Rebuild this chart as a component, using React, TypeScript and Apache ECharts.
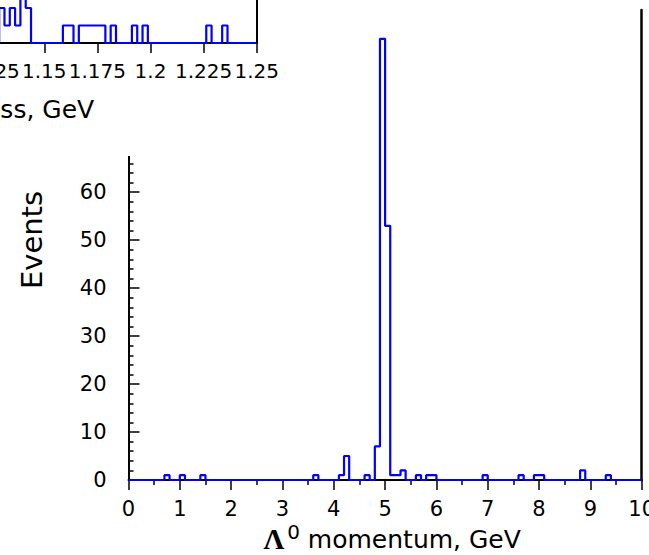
import React, { useEffect, useRef } from "react";
import * as echarts from "echarts";

// ---- main histogram: Λ0 momentum, 0.1 GeV bins (non-empty bins only) ----
const mainBinWidth = 0.1;
const mainRange = [0, 10];
const mainBinStarts = [0.7, 1.0, 1.4, 3.6, 4.1, 4.2, 4.6, 4.8, 4.9, 5.0, 5.1, 5.2, 5.3, 5.6, 5.8, 5.9, 6.9, 7.6, 7.9, 8.0, 8.8, 9.3];
const mainCounts = [1, 1, 1, 1, 1, 5, 1, 7, 92, 53, 1, 1, 2, 1, 1, 1, 1, 1, 1, 1, 2, 1];

// ---- inset histogram: Λ0 mass, 0.0025 GeV bins (non-empty bins only) ----
const insetBinWidth = 0.0025;
const insetRange = [1.0, 1.25];
const insetFirstEdge = 1.00125;
const insetBinStarts = [1.12875, 1.13125, 1.13375, 1.13625, 1.13875, 1.14125, 1.15875, 1.16125, 1.16625, 1.16875, 1.17125, 1.17375, 1.17625, 1.18125, 1.19125, 1.19625, 1.22625, 1.23375];
const insetCounts = [2, 1, 2, 1, 4, 2, 1, 1, 1, 1, 1, 1, 1, 1, 1, 1, 1, 1];

const FONT = "DejaVu Sans";

function buildSteps(firstEdge: number, width: number, end: number, starts: number[], counts: number[]) {
  const map = new Map<number, number>();
  starts.forEach((s, i) => map.set(Math.round((s - firstEdge) / width), counts[i]));
  const pts: [number, number][] = [];
  const n = Math.round((end - firstEdge) / width);
  let last = 0;
  for (let k = 0; k < n; k++) {
    const x = firstEdge + k * width;
    last = map.get(k) ?? 0;
    pts.push([+x.toFixed(6), last]);
  }
  pts.push([end, last]);
  return pts;
}

export default function App() {
  const ref = useRef<HTMLDivElement>(null);
  useEffect(() => {
    if (!ref.current) return;
    const chart = echarts.init(ref.current, null, { renderer: "svg" });
    const mainData = buildSteps(mainRange[0], mainBinWidth, mainRange[1], mainBinStarts, mainCounts);
    const insetData = buildSteps(insetFirstEdge, insetBinWidth, insetRange[1], insetBinStarts, insetCounts);
    const black = "#000";
    const blue = "#0000ff";
    const label = { color: black, fontFamily: FONT, fontSize: 21 };
    const rich = {
      L: { fontFamily: "Liberation Serif", fontSize: 29, fontWeight: "bold", color: black },
      s: { fontFamily: FONT, fontSize: 20, color: black, padding: [0, 0, 14, 3] },
      t: { fontFamily: FONT, fontSize: 25, color: black },
    };
    chart.setOption({
      animation: false,
      backgroundColor: "#fff",
      grid: [
        { left: 128.5, right: 7.3, top: 10, bottom: 75, outerBoundsMode: "none", containLabel: false },
        { left: -274.3, right: 392.3, top: -132, bottom: 512, outerBoundsMode: "none", containLabel: false },
      ],
      xAxis: [
        {
          gridIndex: 0, type: "value", min: mainRange[0], max: mainRange[1], interval: 1,
          axisLine: { show: true, lineStyle: { color: black, width: 2 } },
          axisTick: { show: true, length: 10, lineStyle: { color: black, width: 1.5 } },
          minorTick: { show: true, splitNumber: 2, length: 5, lineStyle: { color: black, width: 1.5 } },
          splitLine: { show: false },
          axisLabel: { ...label, margin: 18, showMaxLabel: true, hideOverlap: false },
          name: "{L|Λ}{s|0} {t|momentum, GeV}",
          nameLocation: "middle", nameGap: 42, nameMoveOverlap: false,
          nameTextStyle: { color: black, fontFamily: FONT, fontSize: 25, padding: [0, 0, 0, 14], rich },
        },
        {
          gridIndex: 1, type: "value", min: insetRange[0], max: insetRange[1], interval: 0.025, z: 60,
          axisLine: { show: true, lineStyle: { color: black, width: 2 } },
          axisTick: { show: true, length: 10, lineStyle: { color: black, width: 1.5 } },
          splitLine: { show: false },
          axisLabel: {
            ...label, fontSize: 20, margin: 18, showMaxLabel: true, showMinLabel: true, hideOverlap: false,
            formatter: (v: number) => String(+v.toFixed(4)),
          },
          name: "{L|Λ}{s|0} {t|mass, GeV}",
          nameLocation: "middle", nameGap: 49, nameMoveOverlap: false,
          nameTextStyle: { color: black, fontFamily: FONT, fontSize: 25, padding: [0, 0, 0, 28], rich },
        },
      ],
      yAxis: [
        {
          gridIndex: 0, type: "value", min: 0, max: 98, interval: 10,
          axisLine: { show: true, lineStyle: { color: black, width: 2 } },
          axisTick: { show: true, inside: true, length: 11, lineStyle: { color: black, width: 1.5 } },
          minorTick: { show: true, splitNumber: 5, length: 5, lineStyle: { color: black, width: 1.5 } },
          splitLine: { show: false },
          axisLabel: { ...label, margin: 22, showMaxLabel: false },
          name: "Events", nameLocation: "middle", nameRotate: 90, nameGap: 82, nameMoveOverlap: false,
          nameTextStyle: { color: black, fontFamily: FONT, fontSize: 29, padding: [0, 0, 0, 10] },
        },
        {
          gridIndex: 0, type: "value", min: 0, max: 98, position: "right",
          axisLine: { show: true, onZero: false, lineStyle: { color: black, width: 2.5 } },
          axisTick: { show: false }, axisLabel: { show: false }, splitLine: { show: false },
        },
        {
          gridIndex: 1, type: "value", min: 0, max: 10, z: 60,
          axisLine: { show: true, lineStyle: { color: black, width: 2 } },
          axisTick: { show: false }, axisLabel: { show: false }, splitLine: { show: false },
        },
        {
          gridIndex: 1, type: "value", min: 0, max: 10, position: "right", z: 60,
          axisLine: { show: true, onZero: false, lineStyle: { color: black, width: 2 } },
          axisTick: { show: false }, axisLabel: { show: false }, splitLine: { show: false },
        },
      ],
      graphic: [
        { type: "rect", z: 50, shape: { x: -10, y: -10, width: 320, height: 166 }, style: { fill: "#fff" } },
      ],
      series: [
        {
          type: "line", xAxisIndex: 0, yAxisIndex: 0, step: "end", symbol: "none", z: 2,
          lineStyle: { color: blue, width: 2.2 }, data: mainData,
        },
        {
          type: "line", xAxisIndex: 1, yAxisIndex: 2, step: "end", symbol: "none", z: 60,
          lineStyle: { color: blue, width: 2.2 }, data: insetData,
        },
      ],
    });
    return () => chart.dispose();
  }, []);
  return <div ref={ref} style={{ position: "absolute", left: 0, top: 0, width: 649, height: 555 }} />;
}
